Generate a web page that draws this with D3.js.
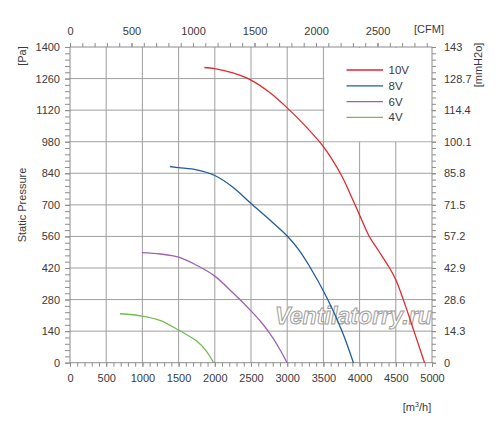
<!DOCTYPE html>
<html>
<head>
<meta charset="utf-8">
<script src="https://cdn.jsdelivr.net/npm/d3@7"></script>
<style>
  body { margin: 0; background: #fff; }
  text { font-family: "Liberation Sans", Arial, sans-serif; fill: #3a3a3a; }
</style>
</head>
<body>
<svg width="500" height="432"></svg>
<script>
const width = 500;
const height = 432;

// series: [m3/h, Pa]
const curve10V = [[1856,1309],[2000,1304],[2250,1285],[2500,1253],[2750,1200],[3000,1130],[3250,1050],[3500,958],[3750,830],[3870,748],[3990,662],[4130,562],[4250,502],[4410,422],[4500,368],[4600,283],[4750,141],[4897,0]];
const curve8V = [[1382,870],[1500,865],[1750,855],[2000,830],[2250,778],[2500,706],[2750,636],[3000,562],[3150,505],[3300,432],[3550,287],[3755,142],[3915,0]];
const curve6V = [[991,488],[1250,482],[1500,468],[1750,432],[2000,384],[2250,310],[2500,230],[2625,186],[2750,134],[2875,72],[2998,0]];
const curve4V = [[691,217],[1000,207],[1250,187],[1500,145],[1625,122],[1750,96],[1875,55],[1985,0]];

const seriesNames = ["10V", "8V", "6V", "4V"];
const seriesColors = ["#df2a2e", "#1f5c9c", "#9c62b0", "#74ba55"];
const seriesData = [curve10V, curve8V, curve6V, curve4V];

const flowTicks = [0, 500, 1000, 1500, 2000, 2500, 3000, 3500, 4000, 4500, 5000];
const cfmTicks = [0, 500, 1000, 1500, 2000, 2500];
const paTicks = [0, 140, 280, 420, 560, 700, 840, 980, 1120, 1260, 1400];
const mmTicks = [0, 14.3, 28.6, 42.9, 57.2, 71.5, 85.8, 100.1, 114.4, 128.7, 143];

const plot = { left: 70, right: 432, top: 47, bottom: 362.7 };

const svg = d3.select("svg");

const x = d3.scaleLinear().domain([0, 5000]).range([plot.left, plot.right]);
const xCfm = d3.scaleLinear().domain([0, 5000 / 1.699]).range([plot.left, plot.right]);
const y = d3.scaleLinear().domain([0, 1400]).range([plot.bottom, plot.top]);
const yMm = d3.scaleLinear().domain([0, 143]).range([plot.bottom, plot.top]);

// grid
const grid = svg.append("g").attr("stroke", "#9f9f9f").attr("stroke-width", 1);
grid.selectAll("line.v")
  .data(flowTicks.slice(1, -1))
  .enter().append("line")
  .attr("x1", d => x(d)).attr("x2", d => x(d))
  .attr("y1", plot.top).attr("y2", plot.bottom);
grid.selectAll("line.h")
  .data(paTicks.slice(1, -1))
  .enter().append("line")
  .attr("x1", plot.left).attr("x2", plot.right)
  .attr("y1", d => y(d)).attr("y2", d => y(d));

// legend background hides the grid behind it
svg.append("rect")
  .attr("x", x(3500) + 1).attr("y", plot.top + 1)
  .attr("width", plot.right - x(3500) - 1.5)
  .attr("height", y(980) - plot.top - 1.5)
  .attr("fill", "#fff");

// frame
svg.append("rect")
  .attr("x", plot.left).attr("y", plot.top)
  .attr("width", plot.right - plot.left).attr("height", plot.bottom - plot.top)
  .attr("fill", "none").attr("stroke", "#8c8c8c");

function styleAxis(g) {
  g.select(".domain").remove();
  g.selectAll("line").attr("stroke", "#8c8c8c");
  g.selectAll("text").attr("font-size", "11px").attr("fill", "#3a3a3a")
    .attr("font-family", "Liberation Sans, Arial, sans-serif");
}

// minor ticks
svg.append("g").attr("transform", `translate(0,${plot.bottom})`)
  .call(d3.axisBottom(x).tickValues(d3.range(0, 5001, 100)).tickSize(4).tickFormat(""))
  .call(styleAxis);
svg.append("g").attr("transform", `translate(0,${plot.top})`)
  .call(d3.axisTop(xCfm).tickValues(d3.range(0, 2901, 100)).tickSize(4).tickFormat(""))
  .call(styleAxis);
svg.append("g").attr("transform", `translate(${plot.left},0)`)
  .call(d3.axisLeft(y).tickValues(d3.range(0, 1401, 28)).tickSize(5).tickFormat(""))
  .call(styleAxis);
svg.append("g").attr("transform", `translate(${plot.right},0)`)
  .call(d3.axisRight(yMm).tickValues(d3.range(0, 51).map(i => i * 2.86)).tickSize(4).tickFormat(""))
  .call(styleAxis);

// labelled ticks
svg.append("g").attr("transform", `translate(0,${plot.bottom})`)
  .call(d3.axisBottom(x).tickValues(flowTicks).tickSize(4).tickPadding(8).tickFormat(d3.format("d")))
  .call(styleAxis);
svg.append("g").attr("transform", `translate(0,${plot.top})`)
  .call(d3.axisTop(xCfm).tickValues(cfmTicks).tickSize(4).tickPadding(8).tickFormat(d3.format("d")))
  .call(styleAxis);
svg.append("g").attr("transform", `translate(${plot.left},0)`)
  .call(d3.axisLeft(y).tickValues(paTicks).tickSize(5).tickPadding(5).tickFormat(d3.format("d")))
  .call(styleAxis);
svg.append("g").attr("transform", `translate(${plot.right},0)`)
  .call(d3.axisRight(yMm).tickValues(mmTicks).tickSize(4).tickPadding(8).tickFormat(d => d === 0 ? "0" : String(d)))
  .call(styleAxis);

// axis titles
svg.append("text").attr("x", 417).attr("y", 411).attr("text-anchor", "middle")
  .attr("font-size", "11px").html("[m<tspan font-size=\"7px\" dy=\"-4\">3</tspan><tspan dy=\"4\">/h]</tspan>");
svg.append("text").attr("x", 429).attr("y", 33).attr("text-anchor", "middle")
  .attr("font-size", "11px").text("[CFM]");
svg.append("text").attr("transform", "translate(26,56) rotate(-90)").attr("text-anchor", "middle")
  .attr("font-size", "11px").text("[Pa]");
svg.append("text").attr("transform", "translate(26,205) rotate(-90)").attr("text-anchor", "middle")
  .attr("font-size", "11px").text("Static Pressure");
svg.append("text").attr("transform", "translate(482,65) rotate(-90)").attr("text-anchor", "middle")
  .attr("font-size", "11px").text("[mmH2o]");

// watermark
svg.append("text")
  .attr("x", 275).attr("y", 323.5)
  .attr("font-size", "24px").attr("font-style", "italic").attr("font-weight", "bold")
  .attr("textLength", 157).attr("lengthAdjust", "spacingAndGlyphs")
  .style("fill", "#fdfdfd").attr("stroke", "#9c9c9c").attr("stroke-width", 1)
  .text("Ventilatorry.ru");

// curves
const line = d3.line()
  .x(d => x(d[0]))
  .y(d => y(d[1]))
  .curve(d3.curveCatmullRom.alpha(0.5));

svg.append("g").selectAll("path")
  .data(seriesData)
  .enter().append("path")
  .attr("d", line)
  .attr("fill", "none")
  .attr("stroke", (d, i) => seriesColors[i])
  .attr("stroke-width", 1.3);

// legend
const legend = svg.append("g").selectAll("g")
  .data(seriesNames)
  .enter().append("g")
  .attr("transform", (d, i) => `translate(346.5,${70 + i * 15.8})`);
legend.append("line")
  .attr("x1", 0).attr("x2", 36.5)
  .attr("stroke", (d, i) => seriesColors[i])
  .attr("stroke-width", 1.3);
legend.append("text")
  .attr("x", 42).attr("y", 4)
  .attr("font-size", "11.5px")
  .text(d => d);
</script>
</body>
</html>
